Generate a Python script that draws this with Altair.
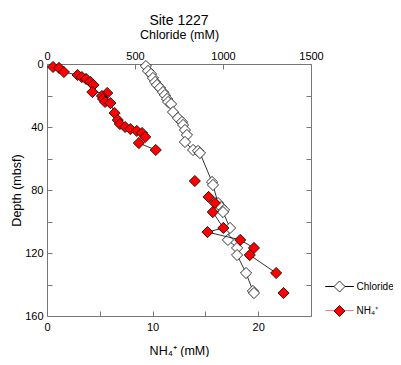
import altair as alt
import pandas as pd

# Chloride (mM) vs depth (mbsf)
cl_depth = [1.3, 4.4, 6.3, 8.9, 11.4, 13.3, 15.2, 17.8, 19.7, 22.2, 24.1, 25.4, 30.5, 34.3,
            36.8, 38.7, 41.9, 45.1, 49.5, 54.6, 55.2, 56.5, 74.9, 76.8, 88.3, 90.8, 92.7,
            94.0, 104.1, 111.7, 116.8, 121.3, 132.7, 144.1, 145.4]
cl_value = [562, 574, 591, 602, 614, 625, 642, 659, 670, 682, 688, 705, 716, 744,
            767, 773, 784, 795, 784, 830, 858, 869, 938, 943, 972, 989, 1006,
            1000, 1040, 1028, 1080, 1080, 1131, 1170, 1176]

# NH4+ (mM) vs depth (mbsf)
nh_depth = [1.9, 2.5, 5.1, 7.0, 8.3, 9.5, 11.4, 13.3, 17.8, 18.4, 20.3, 22.2, 24.1, 24.8,
            31.1, 35.6, 38.1, 40.0, 41.3, 42.5, 43.8, 46.3, 50.2, 54.6,
            74.3, 84.4, 88.3, 94.0, 104.1, 106.7, 111.7, 116.8, 121.3, 132.7, 145.4]
nh_value = [0.57, 1.14, 1.6, 2.9, 3.3, 3.7, 4.1, 4.4, 4.3, 5.7, 5.2, 5.3, 5.5, 6.0,
            6.4, 6.7, 6.9, 7.4, 7.9, 8.5, 9.0, 9.3, 8.7, 10.3,
            14.0, 15.3, 15.9, 15.7, 16.7, 15.2, 18.3, 19.6, 19.2, 21.7, 22.4]
nh_segment = ["a"] * 24 + ["b"] + ["c"] * 9 + ["d"]

series_names = ["Chloride", "NH₄⁺"]
line_keys = ["cl", "nh"]
FONT = "Liberation Sans"

cl_df = pd.DataFrame({"depth": cl_depth, "value": cl_value, "series": series_names[0],
                      "key": line_keys[0], "seg": "x"})
nh_df = pd.DataFrame({"depth": nh_depth, "value": nh_value, "series": series_names[1],
                      "key": line_keys[1], "seg": nh_segment})

W, H = 264, 252
y_scale = alt.Scale(domain=[0, 160], reverse=True, nice=False)
y_vals = list(range(0, 161, 20))
cl_scale = alt.Scale(domain=[0, 1500], nice=False)
nh_scale = alt.Scale(domain=[0, 25], nice=False)

LX, LY = 286.5, 216.5
fill_enc = alt.Fill("series:N", scale=alt.Scale(domain=series_names, range=["white", "#ff0000"]),
                    legend=alt.Legend(title=None, orient="none", legendX=LX, legendY=LY,
                                      symbolType="diamond", symbolSize=121, symbolStrokeColor="black",
                                      symbolStrokeWidth=0.8, labelFont=FONT, labelFontSize=10,
                                      labelColor="black", labelOffset=11, rowPadding=8.5,
                                      padding=0, zindex=2))
op_enc = alt.Opacity("key:N", scale=alt.Scale(domain=line_keys, range=[1, 1]),
                     legend=alt.Legend(title=None, orient="none", legendX=LX, legendY=LY,
                                       symbolType="M-2.6,0L2.6,0", symbolSize=121,
                                       symbolStrokeWidth=1, symbolOpacity=1,
                                       symbolStrokeColor={"expr": "datum.value === 'cl' ? 'black' : '#ff8080'"},
                                       labelExpr="''", labelFontSize=10,
                                       labelOffset=11, rowPadding=13, padding=0, zindex=1))

cl_line = alt.Chart(cl_df).mark_line(color="black", strokeWidth=0.8).encode(
    x=alt.X("value:Q", scale=cl_scale,
            axis=alt.Axis(orient="top", values=[0, 500, 1000, 1500], format="d", tickSize=0,
                          domain=False, labelPadding=3, labelFlush=False, title="Chloride (mM)",
                          titlePadding=9, grid=False)),
    y=alt.Y("depth:Q", scale=y_scale,
            axis=alt.Axis(orient="left", values=y_vals, tickSize=0, domain=False, grid=False,
                          labelExpr="datum.value % 40 == 0 ? datum.label : ''",
                          labelPadding=4, title="Depth (mbsf)", titlePadding=1)),
    order="depth:Q",
    opacity=op_enc,
)
cl_pts = alt.Chart(cl_df).mark_point(shape="diamond", size=125, filled=True, stroke="black",
                                     strokeWidth=0.8, opacity=1).encode(
    x=alt.X("value:Q", scale=cl_scale,
            axis=alt.Axis(orient="bottom", offset=-H, values=[500, 1000], labels=False, tickSize=5,
                          domain=False, grid=False, title=None)),
    y=alt.Y("depth:Q", scale=y_scale,
            axis=alt.Axis(orient="right", offset=-W, values=y_vals, labels=False, tickSize=5,
                          domain=False, grid=False, title=None)),
    fill=fill_enc,
)
nh_line = alt.Chart(nh_df).mark_line(color="black", strokeWidth=0.8).encode(
    x=alt.X("value:Q", scale=nh_scale,
            axis=alt.Axis(orient="bottom", values=[0, 10, 20], tickSize=0, domain=False, grid=False,
                          labelPadding=5, labelFlush=False, title="NH₄⁺ (mM)", titlePadding=12)),
    y=alt.Y("depth:Q", scale=y_scale,
            axis=alt.Axis(orient="left", offset=-W, values=y_vals, labels=False, tickSize=5,
                          domain=False, grid=False, title=None)),
    detail="seg:N",
    order="depth:Q",
    opacity=op_enc,
)
nh_pts = alt.Chart(nh_df).mark_point(shape="diamond", size=125, filled=True, stroke="black",
                                     strokeWidth=0.8, opacity=1).encode(
    x=alt.X("value:Q", scale=nh_scale,
            axis=alt.Axis(orient="top", offset=-H, values=[5, 10, 15, 20], labels=False, tickSize=5,
                          domain=False, grid=False, title=None)),
    y=alt.Y("depth:Q", scale=y_scale, axis=None),
    fill=fill_enc,
)

cl_layer = alt.layer(cl_line, cl_pts).resolve_axis(x="independent", y="independent")
nh_layer = alt.layer(nh_line, nh_pts).resolve_axis(x="independent", y="independent")

chart = alt.layer(cl_layer, nh_layer).resolve_scale(x="independent").resolve_axis(
    x="independent", y="independent"
).properties(
    width=W, height=H,
    title=alt.TitleParams("Site 1227", font=FONT, fontSize=14, fontWeight="normal",
                          anchor="middle", offset=0, color="black"),
    autosize=alt.AutoSizeParams(type="none"),
    padding={"left": 39, "top": 56, "right": 82, "bottom": 41},
).configure_view(stroke="#777777", strokeWidth=1).configure_axis(
    labelFont=FONT, titleFont=FONT, labelFontSize=11, titleFontSize=12.5,
    titleFontWeight="normal", labelColor="black", titleColor="black", tickColor="#777777",
    tickWidth=1,
)

chart.save("out.html", embed_options={"renderer": "svg", "actions": False})
